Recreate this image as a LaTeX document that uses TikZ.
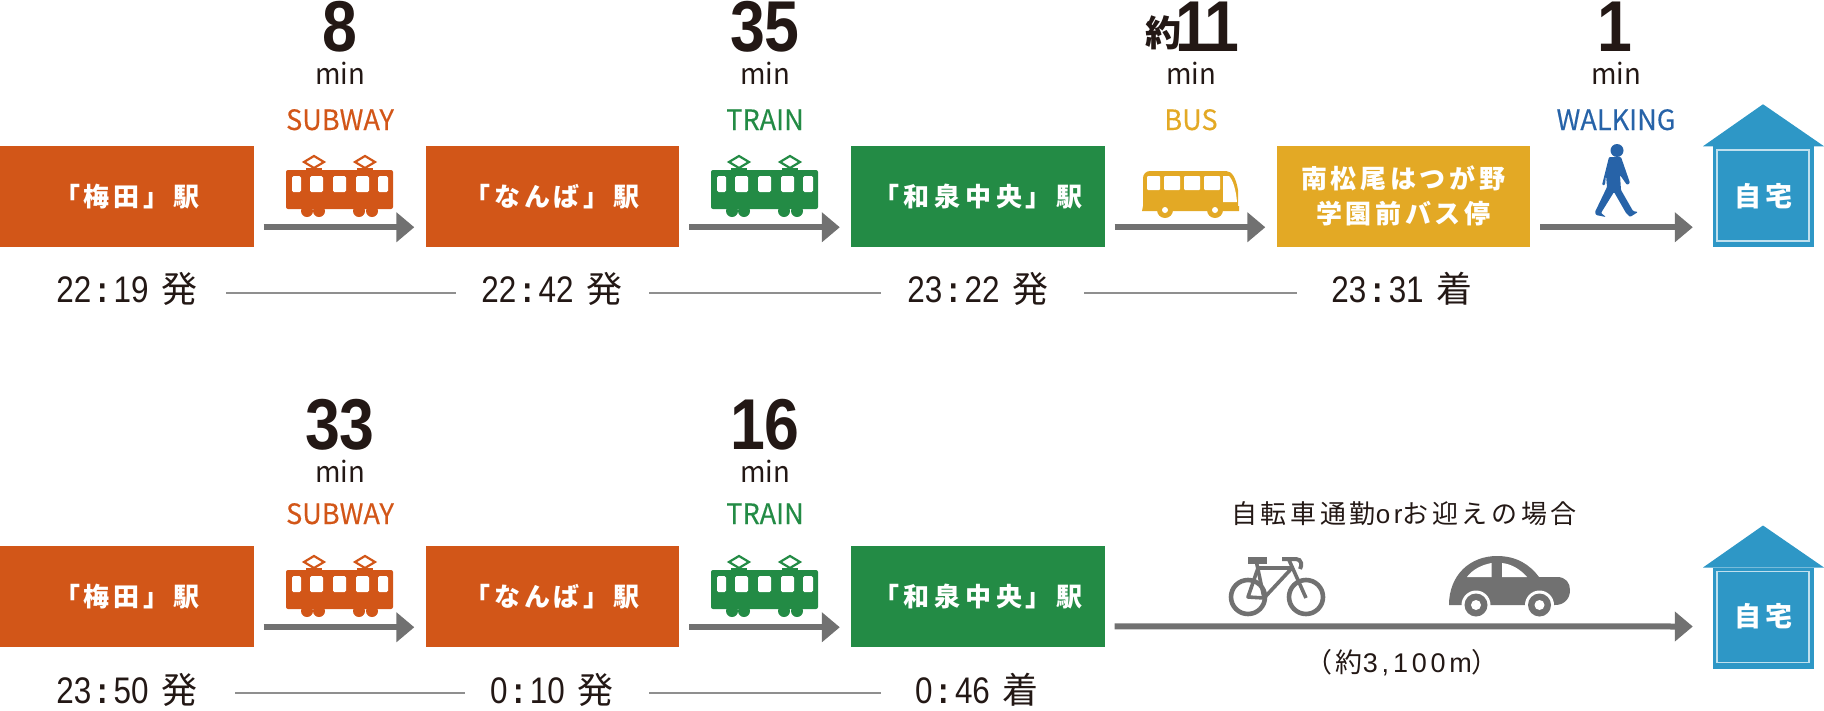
\documentclass[tikz,border=0pt]{standalone}
\usepackage{fontspec}
\usetikzlibrary{arrows.meta}
\setmainfont{Noto Sans CJK JP}
\newfontfamily\jpfont{Noto Sans CJK JP}
\newfontfamily\boxfont[LetterSpace=14]{Noto Sans CJK JP}
\newfontfamily\capfont[LetterSpace=14]{Noto Sans CJK JP}
\newfontfamily\latfont[LetterSpace=14]{Liberation Sans}
\newfontfamily\digfont[FakeStretch=0.85]{Liberation Sans}
\newfontfamily\numfont[FakeStretch=0.87]{Liberation Sans}
\newfontfamily\minfont[FakeStretch=0.95]{Noto Sans CJK JP}
\newfontfamily\labfont[FakeStretch=0.97,FakeBold=0.25]{Noto Sans CJK JP}
\definecolor{ink}{HTML}{231815}
\definecolor{orangeC}{HTML}{D25618}
\definecolor{greenC}{HTML}{238B45}
\definecolor{yellowC}{HTML}{E3A925}
\definecolor{blueC}{HTML}{2E97C6}
\definecolor{walkC}{HTML}{2763A8}
\definecolor{grayC}{HTML}{717171}
\definecolor{lineC}{HTML}{8F8F8F}
\newcommand{\tm}[3]{{\digfont\fontsize{37}{37}\selectfont #1\hspace{6pt}{\bfseries:}\hspace{6pt}#2}\hspace{13pt}{\jpfont\fontsize{36}{36}\selectfont #3}}
\newcommand{\bignum}[1]{{\numfont\bfseries\fontsize{72}{72}\selectfont #1}}
\tikzset{
 station/.style={anchor=center,minimum width=253.5pt,minimum height=101.5pt,inner sep=0pt,text=white,font=\boxfont\bfseries\fontsize{26}{35}\selectfont,align=center},
 homelabel/.style={anchor=center,minimum width=101pt,minimum height=101pt,inner sep=0pt,text=white,font=\boxfont\bfseries\fontsize{27}{27}\selectfont},
 oneway/.style={draw=grayC,line width=6pt,-{Triangle[length=18pt,width=29pt]}},
 timeline/.style={draw=lineC,line width=2.4pt},
 timenode/.style={text=ink,inner sep=0pt,text height=26pt,text depth=2pt,anchor=center},
 digit/.style={text=ink,anchor=base,inner sep=0pt},
 minnode/.style={text=ink,anchor=base,inner sep=0pt,font=\minfont\fontsize{29}{29}\selectfont},
 modenode/.style={anchor=base,inner sep=0pt,font=\labfont\fontsize{28}{28}\selectfont},
 trainicon/.pic={
  \fill[pic actions,rounded corners=2pt] (-54,-20) rectangle (53,19);
  \foreach \a/\b in {-48/-39,-30/-17,-7/6,16/29,38/48}{\fill[white,rounded corners=1.5pt] (\a,-14) rectangle (\b,2);}
  \foreach \a in {-33,-21,19,32}{\fill[pic actions] (\a,21) circle (6);}
  \foreach \a in {-26,25}{
   \draw[pic actions,fill=none,line width=2.2pt] (\a-10,-28) -- (\a,-34) -- (\a+10,-28) -- (\a,-22) -- cycle;
   \fill[pic actions] (\a-8,-22) rectangle (\a+8,-20);}
 },
 homeicon/.pic={
  \fill[blueC] (0,-92) -- (61,-50) -- (-60,-50) -- cycle;
  \fill[blueC] (-50,-50) rectangle (51,51);
  \draw[white!70!blueC,line width=1.6pt] (-46,-46) rectangle (46,45);
 }
}
\begin{document}
\begin{tikzpicture}[x=1pt,y=-1pt]
\useasboundingbox (0,0) rectangle (1824,710);
% ---------- row 1
\node[station,fill=orangeC] (a1) at (126.75,196.25) {「梅田」\,駅};
\node[station,fill=orangeC] (a2) at (552.25,196.25) {「なんば」\,駅};
\node[station,fill=greenC] (a3) at (977.75,196.25) {「和\hspace{5pt}泉\hspace{5pt}中\hspace{5pt}央」\,駅};
\node[station,fill=yellowC] (a4) at (1403.25,196.25) {南松尾はつが野\\学園前バス停};
\pic at (1763,196.25) {homeicon};
\node[homelabel] (a5) at (1763.5,196.25) {自宅};
\draw[oneway] ([xshift=10pt,yshift=-31pt]a1.east) -- ([xshift=-11pt,yshift=-31pt]a2.west);
\draw[oneway] ([xshift=10pt,yshift=-31pt]a2.east) -- ([xshift=-11pt,yshift=-31pt]a3.west);
\draw[oneway] ([xshift=10pt,yshift=-31pt]a3.east) -- ([xshift=-11pt,yshift=-31pt]a4.west);
\draw[oneway] ([xshift=10pt,yshift=-31pt]a4.east) -- ([xshift=-20pt,yshift=-31pt]a5.west);
\node[digit] (n1) at (340,51) {\bignum{8}};
\node[digit] (n2) at (765,51) {\bignum{35}};
\node[digit] (n3) at (1207,51) {\bignum{1}\kern-6pt\bignum{1}};
\node[digit,font=\jpfont\bfseries\fontsize{36}{36}\selectfont] (n3a) at (1163,46) {約};
\node[digit] (n4) at (1615,51) {\bignum{1}};
\node[minnode] (m1) at (340,84) {min};
\node[minnode] (m2) at (765,84) {min};
\node[minnode] (m3) at (1191,84) {min};
\node[minnode] (m4) at (1616,84) {min};
\node[modenode,text=orangeC] (l1) at (340,130) {SUBWAY};
\node[modenode,text=greenC] (l2) at (765,130) {TRAIN};
\node[modenode,text=yellowC] (l3) at (1191,130) {BUS};
\node[modenode,text=walkC] (l4) at (1616,130) {WALKING};
\pic[orangeC] at (340,190) {trainicon};
\pic[greenC] at (765,190) {trainicon};
% bus
\fill[yellowC] (1143,206) -- (1143,178) arc[start angle=180,end angle=270,radius=7] -- (1226,171) .. controls (1232,171) and (1236,178) .. (1238,190) -- (1238,206) -- (1239,206) -- (1239,211) -- (1142,211) -- cycle;
\foreach \a/\b in {1147/1160,1164/1180,1184/1200,1204/1220}{\fill[white,rounded corners=1pt] (\a,176) rectangle (\b,190);}
\fill[white] (1223,176) -- (1229,176) .. controls (1233,180) and (1236,190) .. (1237,202) -- (1223,202) -- cycle;
\foreach \a in {1165,1215}{\fill[yellowC] (\a,210) circle (8); \fill[white] (\a,210) circle (3);}
% walker
\fill[walkC] (1617,150.5) circle (6.5);
\fill[walkC,rounded corners=1pt] (1609,157) -- (1621,157) -- (1630,183) -- (1627,185) -- (1620,175) -- (1621,190) -- (1633,211) -- (1638,212) -- (1630,217) -- (1626,213) -- (1614,192) -- (1601,213) -- (1606,217) -- (1596,215) -- (1595,212) -- (1607,187) -- (1606,175) -- (1605,185) -- (1602,185) -- cycle;
\node[timenode] (t1) at (127,290) {\tm{22}{19}{発}};
\node[timenode] (t2) at (552,290) {\tm{22}{42}{発}};
\node[timenode] (t3) at (978,290) {\tm{23}{22}{発}};
\node[timenode] (t4) at (1402,290) {\tm{23}{31}{着}};
\coordinate (c1a) at (226,293); \coordinate (c1b) at (456,293);
\draw[timeline] (c1a) -- (c1b);
\coordinate (c2a) at (649,293); \coordinate (c2b) at (881,293);
\draw[timeline] (c2a) -- (c2b);
\coordinate (c3a) at (1084,293); \coordinate (c3b) at (1297,293);
\draw[timeline] (c3a) -- (c3b);
% ---------- row 2
\node[station,fill=orangeC] (b1) at (126.75,596.25) {「梅田」\,駅};
\node[station,fill=orangeC] (b2) at (552.25,596.25) {「なんば」\,駅};
\node[station,fill=greenC] (b3) at (977.75,596.25) {「和\hspace{5pt}泉\hspace{5pt}中\hspace{5pt}央」\,駅};
\pic at (1763,617.5) {homeicon};
\node[homelabel] (b5) at (1763.5,616.5) {自宅};
\draw[oneway] ([xshift=10pt,yshift=-31pt]b1.east) -- ([xshift=-11pt,yshift=-31pt]b2.west);
\draw[oneway] ([xshift=10pt,yshift=-31pt]b2.east) -- ([xshift=-11pt,yshift=-31pt]b3.west);
\draw[oneway] ([xshift=10pt,yshift=-30pt]b3.east) -- ([xshift=-20pt,yshift=-10pt]b5.west);
\node[digit] (p1) at (340,449) {\bignum{33}};
\node[digit] (p2) at (765,449) {\bignum{16}};
\node[minnode] (q1) at (340,482) {min};
\node[minnode] (q2) at (765,482) {min};
\node[modenode,text=orangeC] (r1) at (340,524) {SUBWAY};
\node[modenode,text=greenC] (r2) at (765,524) {TRAIN};
\pic[orangeC] at (340,590) {trainicon};
\pic[greenC] at (765,590) {trainicon};
\node[text=ink,inner sep=0pt,font=\capfont\fontsize{26}{26}\selectfont] (cap) at (1404,514) {自転車通勤{\latfont or}お迎えの場合};
\node[text=ink,inner sep=0pt,font=\capfont\fontsize{27}{27}\selectfont] (dist) at (1402,663) {（約{\latfont 3,100m}）};
% bicycle
\begin{scope}[draw=grayC,line width=4.6pt]
\draw (1248,597) circle (17);
\draw (1306,597) circle (17);
\draw[line width=3.6pt,line join=round] (1248,597) -- (1264,598) -- (1292,568) -- (1258,568) -- cycle;
\draw[line width=3.6pt] (1256,560) -- (1264,598);
\draw[line width=3.6pt] (1289,560) -- (1306,598);
\draw[line width=4pt] (1282,559) -- (1296,559) .. controls (1302,559) and (1302,566) .. (1300,569);
\end{scope}
\fill[grayC] (1248,557) rectangle (1267,564);
% car
\fill[grayC] (1449,605) .. controls (1449,575) and (1470,556) .. (1497,556) .. controls (1517,556) and (1530,565) .. (1539,577) -- (1557,577) .. controls (1566,577) and (1570,583) .. (1570,590) .. controls (1570,599) and (1564,605) .. (1555,605) -- cycle;
\fill[white] (1467,577) .. controls (1472,570) and (1481,565) .. (1491.5,563) -- (1491.5,577) -- cycle;
\fill[white] (1502,563) .. controls (1512,564) and (1521,570) .. (1527,577) -- (1502,577) -- cycle;
\foreach \a in {1476,1539.5}{\fill[white] (\a,605) circle (14.5); \fill[grayC] (\a,605) circle (11.5); \fill[white] (\a,605) circle (5);}
\node[timenode] (s1) at (127,691) {\tm{23}{50}{発}};
\node[timenode] (s2) at (552,691) {\tm{0}{10}{発}};
\node[timenode] (s3) at (977,691) {\tm{0}{46}{着}};
\coordinate (d1a) at (235,693); \coordinate (d1b) at (465,693);
\draw[timeline] (d1a) -- (d1b);
\coordinate (d2a) at (649,693); \coordinate (d2b) at (881,693);
\draw[timeline] (d2a) -- (d2b);
\end{tikzpicture}
\end{document}
